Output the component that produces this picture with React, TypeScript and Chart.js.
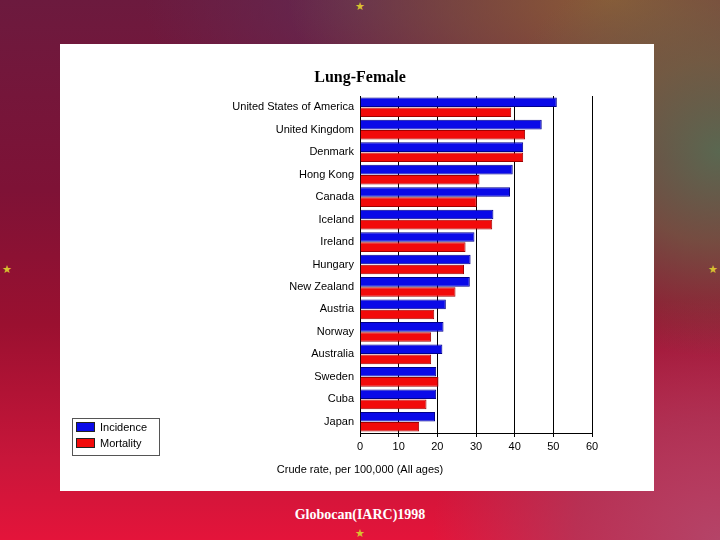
import React, { useEffect, useRef } from "react";
import { Chart, registerables } from "chart.js";

Chart.register(...registerables);

const categories = [
  "United States of America",
  "United Kingdom",
  "Denmark",
  "Hong Kong",
  "Canada",
  "Iceland",
  "Ireland",
  "Hungary",
  "New Zealand",
  "Austria",
  "Norway",
  "Australia",
  "Sweden",
  "Cuba",
  "Japan",
];
const incidence = [50.9, 47.0, 42.2, 39.5, 38.8, 34.5, 29.6, 28.6, 28.4, 22.2, 21.6, 21.3, 19.7, 19.7, 19.4];
const mortality = [39.1, 42.7, 42.2, 30.9, 30.2, 34.2, 27.3, 26.9, 24.7, 19.2, 18.4, 18.4, 20.3, 17.2, 15.3];
const seriesLabels = ["Incidence", "Mortality"];
const xMin = 0;
const xMax = 60;
const xStep = 10;
const chartTitle = "Lung-Female";
const xTitle = "Crude rate, per 100,000 (All ages)";
const footer = "Globocan(IARC)1998";

const SANS = '"Liberation Sans", Arial, sans-serif';
const SERIF = '"Liberation Serif", "Times New Roman", serif';

const extrasPlugin = {
  id: "extras",
  afterDraw(chart: any) {
    const { ctx, chartArea } = chart;
    ctx.save();
    // title
    ctx.font = `bold 16px ${SERIF}`;
    ctx.fillStyle = "#000";
    ctx.textAlign = "center";
    ctx.textBaseline = "middle";
    ctx.fillText(chartTitle, chartArea.left, 34);

    // axis title
    ctx.font = `11px ${SANS}`;
    ctx.fillText(xTitle, chartArea.left, chartArea.bottom + 37);

    // legend box
    ctx.strokeStyle = "#555";
    ctx.lineWidth = 1;
    ctx.strokeRect(12.5, 374.5, 87, 37);
    const ds = chart.data.datasets;
    ds.forEach((d: any, i: number) => {
      const y = 378 + i * 16;
      ctx.fillStyle = d.backgroundColor;
      ctx.fillRect(16, y, 19, 10);
      ctx.strokeStyle = "#222";
      ctx.strokeRect(16.5, y + 0.5, 18, 9);
      ctx.fillStyle = "#000";
      ctx.textAlign = "left";
      ctx.textBaseline = "middle";
      ctx.font = `11px ${SANS}`;
      ctx.fillText(d.label, 40, y + 5.5);
    });
    ctx.restore();
  },
};

function Star({ x, y }: { x: number; y: number }) {
  return (
    <div
      style={{
        position: "absolute",
        left: x - 6,
        top: y - 7,
        width: 12,
        textAlign: "center",
        fontSize: 11,
        lineHeight: "14px",
        color: "#d8c030",
        fontFamily: '"DejaVu Sans", sans-serif',
      }}
    >
      ★
    </div>
  );
}

export default function App() {
  const ref = useRef<HTMLCanvasElement | null>(null);

  useEffect(() => {
    if (!ref.current) return;
    Chart.defaults.color = "#000";
    const chart = new Chart(ref.current, {
      type: "bar",
      data: {
        labels: categories,
        datasets: [
          {
            label: seriesLabels[0],
            data: incidence,
            backgroundColor: "#0a0ae8",
            borderColor: "#00008c",
            borderWidth: 1,
            categoryPercentage: 0.9,
            barPercentage: 0.95,
          },
          {
            label: seriesLabels[1],
            data: mortality,
            backgroundColor: "#f20a0a",
            borderColor: "#a00000",
            borderWidth: 1,
            categoryPercentage: 0.9,
            barPercentage: 0.95,
          },
        ],
      },
      options: {
        indexAxis: "y",
        animation: false,
        responsive: false,
        devicePixelRatio: 1,
        layout: { padding: { left: 160, right: 62, top: 52, bottom: 0 } },
        plugins: {
          legend: { display: false },
          tooltip: { enabled: false },
          title: { display: false },
        },
        scales: {
          x: {
            type: "linear",
            min: xMin,
            max: xMax,
            z: 1,
            ticks: {
              stepSize: xStep,
              color: "#000",
              font: { family: SANS, size: 11 },
              padding: 3,
            },
            grid: {
              color: "#000",
              lineWidth: 1,
              drawTicks: true,
              tickLength: 4,
            },
            border: { display: true, color: "#000", width: 1 },
            afterFit: (scale: any) => {
              scale.height = 58;
            },
          },
          y: {
            type: "category",
            grid: { display: false, drawTicks: false },
            border: { display: true, color: "#000", width: 1 },
            ticks: {
              color: "#000",
              font: { family: SANS, size: 11 },
              padding: 6,
              autoSkip: false,
            },
            afterFit: (scale: any) => {
              scale.width = 140;
            },
          },
        },
      },
      plugins: [extrasPlugin],
    } as any);
    return () => chart.destroy();
  }, []);

  return (
    <div
      style={{
        position: "fixed",
        left: 0,
        top: 0,
        width: 720,
        height: 540,
        overflow: "hidden",
        background: [
          "radial-gradient(ellipse 32% 38% at 100% 28%, rgba(88,108,82,0.95) 0%, rgba(110,100,70,0.7) 45%, rgba(120,90,60,0) 100%)",
          "radial-gradient(ellipse 45% 30% at 85% 0%, rgba(140,95,55,0.95) 0%, rgba(130,90,60,0.6) 50%, rgba(120,80,60,0) 100%)",
          "radial-gradient(ellipse 40% 45% at 100% 100%, rgba(180,68,104,1) 0%, rgba(170,60,95,0.7) 50%, rgba(160,50,80,0) 100%)",
          "radial-gradient(ellipse 30% 25% at 50% 0%, rgba(98,42,82,0.95) 0%, rgba(98,42,82,0) 100%)",
          "linear-gradient(to bottom, #6c1a3e 0%, #7e1236 35%, #9a1030 60%, #c8163a 85%, #e4143a 100%)",
        ].join(", "),
      }}
    >
      <div
        style={{
          position: "absolute",
          left: 60,
          top: 44,
          width: 594,
          height: 447,
          background: "#fff",
        }}
      >
        <canvas ref={ref} width={594} height={447} style={{ display: "block", width: 594, height: 447 }} />
      </div>
      <div
        style={{
          position: "absolute",
          left: 0,
          top: 505,
          width: 720,
          textAlign: "center",
          color: "#fff",
          fontFamily: SERIF,
          fontWeight: "bold",
          fontSize: 14,
          lineHeight: "20px",
        }}
      >
        {footer}
      </div>
      <Star x={360} y={7} />
      <Star x={7} y={270} />
      <Star x={713} y={270} />
      <Star x={360} y={534} />
    </div>
  );
}
